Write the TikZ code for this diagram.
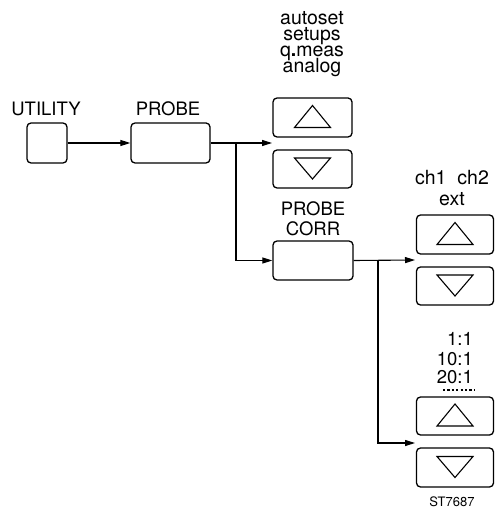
\documentclass[tikz,border=0pt]{standalone}
\usepackage{fontspec}
\setmainfont{TeX Gyre Heros}
\usetikzlibrary{arrows.meta,calc}
\tikzset{
  btn/.style={draw, line width=1.3pt, rounded corners=4pt, inner sep=0pt},
  conn/.style={line width=1.1pt},
  arr/.style={conn, -{Triangle[length=10pt,width=6pt]}},
  captxt/.style={font=\fontsize{18.5}{16}\selectfont, inner sep=0pt, anchor=base},
  lowtxt/.style={font=\fontsize{19.5}{16}\selectfont, inner sep=0pt, anchor=base},
  tri/.style={line width=1.1pt, line join=miter}
}
\newcommand{\upTri}[1]{\draw[tri] ($(#1.center)+(-18,10)$) -- ($(#1.center)+(0,-12)$) -- ($(#1.center)+(18,10)$) -- cycle;}
\newcommand{\dnTri}[1]{\draw[tri] ($(#1.center)+(-18,-11)$) -- ($(#1.center)+(0,10)$) -- ($(#1.center)+(18,-11)$) -- cycle;}
\begin{document}
\begin{tikzpicture}[x=1pt,y=-1pt]
\useasboundingbox (0,0) rectangle (495,510);
% boxes
\node[btn, minimum width=40pt, minimum height=40pt] (util) at (47,143) {};
\node[btn, minimum width=79pt, minimum height=40pt] (probe) at (170.5,143) {};
\node[btn, minimum width=79pt, minimum height=39pt] (up1) at (312.5,117.5) {};
\node[btn, minimum width=79pt, minimum height=38pt] (dn1) at (312.5,169) {};
\node[btn, minimum width=80pt, minimum height=39pt] (corr) at (313,260.5) {};
\node[btn, minimum width=77pt, minimum height=39pt] (up2) at (455,234.5) {};
\node[btn, minimum width=77pt, minimum height=38pt] (dn2) at (455,286) {};
\node[btn, minimum width=77pt, minimum height=38pt] (up3) at (455,416) {};
\node[btn, minimum width=77pt, minimum height=39pt] (dn3) at (455,467.5) {};
\upTri{up1}\dnTri{dn1}
\upTri{up2}\dnTri{dn2}
\upTri{up3}\dnTri{dn3}
% labels
\node[captxt] (lutil) at (46,116) {UTILITY};
\node[captxt] (lprobe) at (168,116) {PROBE};
\node[lowtxt] (la) at (312,25) {autoset};
\node[lowtxt] (lb) at (312,41) {setups};
\node[lowtxt] (lc) at (312,57) {q\textbf{.}meas};
\node[lowtxt] (ld) at (312,73) {analog};
\node[captxt] (lcorra) at (313,215) {PROBE};
\node[captxt] (lcorrb) at (313,235) {CORR};
\node[lowtxt] (lch) at (452,185) {ch1\ \ ch2};
\node[lowtxt] (lext) at (452,206) {ext};
\node[captxt, anchor=base east] (lr1) at (473,345) {1:1};
\node[captxt, anchor=base east] (lr2) at (473,365) {10:1};
\node[captxt, anchor=base east] (lr3) at (473,383) {20:1};
\node[font=\fontsize{13}{13}\selectfont, inner sep=0pt, anchor=base] (lst) at (452,506) {ST7687};
\draw[line width=2.4pt, dash pattern=on 2.2pt off 2.2pt] (443,390) -- (474,390);
% connectors
\coordinate (j1) at (236,143);
\coordinate (t1) at (272,143);
\coordinate (j2) at (378,260);
\coordinate (t2) at (415,260);
\coordinate (t3) at (415,443);
\draw[arr] (util.east) -- (probe.west);
\draw[arr] (probe.east) -- (t1);
\draw[arr] (j1) |- (corr.west);
\draw[arr] (corr.east) -- (t2);
\draw[arr] (j2) |- (t3);
\end{tikzpicture}
\end{document}
